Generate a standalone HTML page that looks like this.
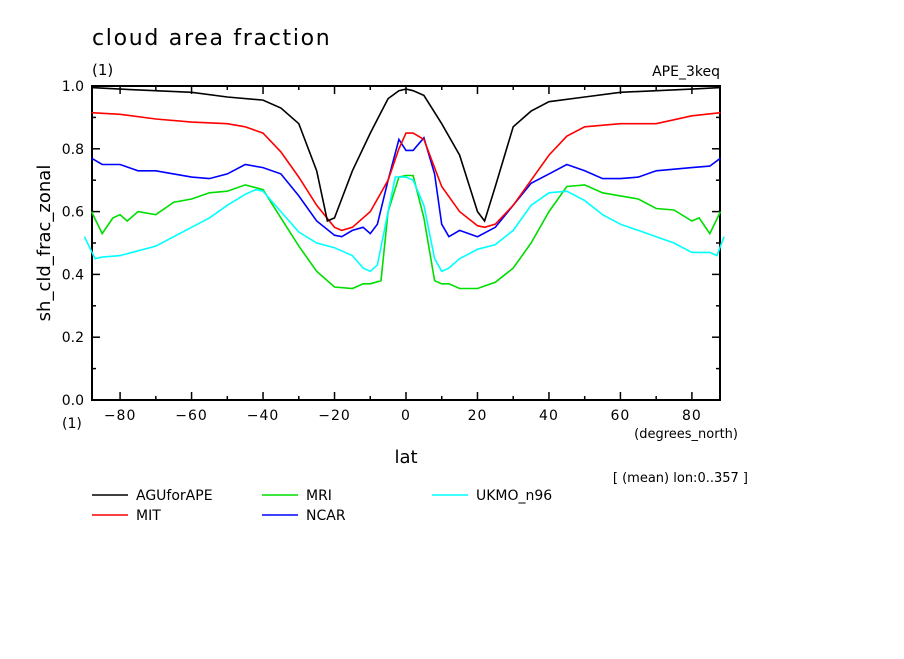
<!DOCTYPE html>
<html><head><meta charset="utf-8"><style>
body{margin:0;background:#fff;}
svg text{font-family:"DejaVu Sans","Liberation Sans",sans-serif;fill:#000;}
</style></head><body>
<svg id="chart" width="904" height="654" xmlns="http://www.w3.org/2000/svg">
<rect width="904" height="654" fill="#fff"/>
<text x="92" y="45" font-size="22" letter-spacing="1.7">cloud area fraction</text>
<text x="92" y="75" font-size="15">(1)</text>
<text x="720" y="76" font-size="14" text-anchor="end">APE_3keq</text>
<text x="0" y="0" font-size="18" text-anchor="middle" transform="translate(50,243) rotate(-90)">sh_cld_frac_zonal</text>
<text x="62" y="428" font-size="14">(1)</text>
<text x="406" y="463" font-size="18" text-anchor="middle">lat</text>
<text x="738" y="438" font-size="13" text-anchor="end">(degrees_north)</text>
<text x="748" y="482" font-size="13" text-anchor="end">[ (mean) lon:0..357 ]</text>
<g id="axes"></g>
<g id="series"></g>
<g id="legend"></g>
</svg>
<script>
const xTicks=[-80,-60,-40,-20,0,20,40,60,80];
const yTicks=[0,0.2,0.4,0.6,0.8,1.0];
const names=["AGUforAPE","MIT","MRI","NCAR","UKMO_n96"];
const colors=["#000","#f00","#0d0","#00f","#0ff"];
const latBlack=[-88,-80,-60,-50,-40,-35,-30,-25,-22,-20,-15,-10,-5,-2,0,2,5,10,15,20,22,25,30,35,40,50,60,80,88];
const valBlack=[0.995,0.99,0.98,0.965,0.955,0.93,0.88,0.73,0.57,0.58,0.73,0.85,0.96,0.985,0.99,0.985,0.97,0.88,0.78,0.6,0.57,0.68,0.87,0.92,0.95,0.965,0.98,0.99,0.995];
const latRed=[-88,-80,-70,-60,-50,-45,-40,-35,-30,-25,-20,-18,-15,-10,-5,-2,0,2,5,10,15,20,22,25,30,35,40,45,50,60,70,80,88];
const valRed=[0.915,0.91,0.895,0.885,0.88,0.87,0.85,0.79,0.71,0.62,0.55,0.54,0.55,0.6,0.7,0.8,0.85,0.85,0.83,0.68,0.6,0.555,0.55,0.56,0.62,0.7,0.78,0.84,0.87,0.88,0.88,0.905,0.915];
const latGreen=[-88,-85,-82,-80,-78,-75,-70,-65,-60,-55,-50,-45,-40,-35,-30,-25,-20,-15,-12,-10,-7,-5,-2,0,2,5,8,10,12,15,20,25,30,35,40,45,50,55,60,65,70,75,80,82,85,88];
const valGreen=[0.6,0.53,0.58,0.59,0.57,0.6,0.59,0.63,0.64,0.66,0.665,0.685,0.67,0.58,0.49,0.41,0.36,0.355,0.37,0.37,0.38,0.6,0.71,0.715,0.715,0.58,0.38,0.37,0.37,0.355,0.355,0.375,0.42,0.5,0.6,0.68,0.685,0.66,0.65,0.64,0.61,0.605,0.57,0.58,0.53,0.6];
const latBlue=[-88,-85,-80,-75,-70,-65,-60,-55,-50,-45,-40,-35,-30,-25,-20,-18,-15,-12,-10,-8,-5,-2,0,2,5,8,10,12,15,20,25,30,35,40,45,50,55,60,65,70,80,85,88];
const valBlue=[0.77,0.75,0.75,0.73,0.73,0.72,0.71,0.705,0.72,0.75,0.74,0.72,0.65,0.57,0.525,0.52,0.54,0.55,0.53,0.56,0.7,0.83,0.795,0.795,0.835,0.72,0.56,0.52,0.54,0.52,0.55,0.62,0.69,0.72,0.75,0.73,0.705,0.705,0.71,0.73,0.74,0.745,0.77];
const latCyan=[-90,-87,-85,-80,-75,-70,-65,-60,-55,-50,-45,-42,-40,-35,-30,-25,-20,-15,-12,-10,-8,-5,-3,0,2,5,8,10,12,15,20,25,30,35,40,45,50,55,60,65,70,75,80,85,87,89];
const valCyan=[0.52,0.45,0.455,0.46,0.475,0.49,0.52,0.55,0.58,0.62,0.655,0.67,0.665,0.6,0.535,0.5,0.485,0.46,0.42,0.41,0.43,0.6,0.71,0.71,0.7,0.62,0.45,0.41,0.42,0.45,0.48,0.495,0.54,0.62,0.66,0.665,0.635,0.59,0.56,0.54,0.52,0.5,0.47,0.47,0.46,0.52];
const x0=92,x1=720,y0=400,y1=86,latMax=87.86;
const xs=v=>406+v*(x1-x0)/(2*latMax);
const ys=v=>y0-v*(y0-y1);
const NS="http://www.w3.org/2000/svg";
function mk(t,a,p){const e=document.createElementNS(NS,t);for(const k in a)e.setAttribute(k,a[k]);p.appendChild(e);return e;}
const ax=document.getElementById("axes");
const frame=mk("rect",{x:x0,y:y1,width:x1-x0,height:y0-y1,fill:"none",stroke:"#000","stroke-width":2},ax);


for(let v=-80;v<=80;v+=10){const maj=v%20===0;const L=maj?8:4;
 const t1=mk("line",{x1:xs(v),x2:xs(v),y1:y0,y2:y0-L,stroke:"#000","stroke-width":1.5},ax);
 
 
 const t2=mk("line",{x1:xs(v),x2:xs(v),y1:y1,y2:y1+L,stroke:"#000","stroke-width":1.5},ax);
 
 }
xTicks.forEach(v=>{const t=mk("text",{x:xs(v),y:y0+20,"font-size":14,"text-anchor":"middle","letter-spacing":1},ax);t.textContent=(v<0?"−":"")+Math.abs(v);
 
 });
for(let i=0;i<=10;i++){const v=i/10;const L=i%2===0?8:4;
 const t1=mk("line",{x1:x0,x2:x0+L,y1:ys(v),y2:ys(v),stroke:"#000","stroke-width":1.5},ax);
 
 
 const t2=mk("line",{x1:x1,x2:x1-L,y1:ys(v),y2:ys(v),stroke:"#000","stroke-width":1.5},ax);
 
 }
yTicks.forEach(v=>{const t=mk("text",{x:x0-8,y:ys(v)+5,"font-size":14,"text-anchor":"end"},ax);t.textContent=v.toFixed(1);
 
 });
const sg=document.getElementById("series");
const sets=[[latBlack,valBlack],[latRed,valRed],[latGreen,valGreen],[latBlue,valBlue],[latCyan,valCyan]];
const order=[2,4,3,1,0];
order.forEach(i=>{const [la,va]=sets[i];
 const p=mk("polyline",{points:la.map((l,j)=>xs(l).toFixed(1)+","+ys(va[j]).toFixed(1)).join(" "),fill:"none",stroke:colors[i],"stroke-width":1.6},sg);
 
 });
const lg=document.getElementById("legend");
const pos=[[92,495],[92,515],[262,495],[262,515],[432,495]];
names.forEach((n,i)=>{const [lx,ly]=pos[i];
 const l=mk("line",{x1:lx,x2:lx+36,y1:ly,y2:ly,stroke:colors[i],"stroke-width":1.6},lg);
 
 
 const t=mk("text",{x:lx+44,y:ly+5,"font-size":14},lg);t.textContent=n;
 
 });
</script>
</body></html>
